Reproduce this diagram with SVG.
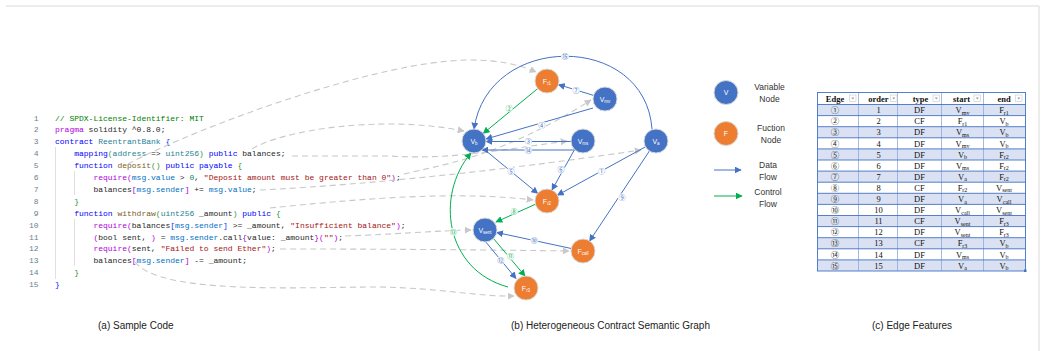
<svg xmlns="http://www.w3.org/2000/svg" width="1046" height="351" viewBox="0 0 1046 351">
<style>
.code{font-family:"Liberation Mono",monospace;font-size:8px;fill:#1f1f1f}
.ln{font-family:"Liberation Mono",monospace;font-size:8px;fill:#6a7f8f;text-anchor:end}
.cm{fill:#008000}.kw{fill:#0000ff}.mg{fill:#af00db}.ty{fill:#267f99}.fn{fill:#795e26}.st{fill:#a31515}.nu{fill:#098658}.ms{fill:#0070c1}
.b1{fill:#0431fa}.b2{fill:#319331}.b3{fill:#af00db}
.guide{stroke:#d8d8d8;stroke-width:0.8}
.dash{fill:none;stroke:#c8c8c8;stroke-width:1.1;stroke-dasharray:6 4;marker-end:url(#ag)}
.de{fill:none;stroke:#4472c4;stroke-width:1;marker-end:url(#ab)}
.ce{fill:none;stroke:#00b050;stroke-width:1;marker-end:url(#ac)}
.vn{fill:#4472c4;stroke:#d9d9d9;stroke-width:1}
.fnode{fill:#ed7d31;stroke:#d9d9d9;stroke-width:1}
.nl{font-family:"Liberation Sans",sans-serif;font-size:7px;fill:#fff;text-anchor:middle}
.sub{font-size:4.5px}
.elb{font-family:"Noto Sans CJK SC","DejaVu Sans",sans-serif;font-size:7px;text-anchor:middle}
.lg{font-family:"Liberation Sans",sans-serif;font-size:8.5px;fill:#333;text-anchor:middle}
.cap{font-family:"Liberation Sans",sans-serif;font-size:10px;fill:#222}
.tt{font-family:"Liberation Serif",serif;font-size:8.5px;fill:#111;text-anchor:middle}
.th{font-family:"Liberation Serif",serif;font-size:8.5px;font-weight:bold;fill:#111;text-anchor:middle}
.tc{font-family:"Noto Sans CJK SC","DejaVu Sans",sans-serif;font-size:8.5px;fill:#333;text-anchor:middle}
.ts{font-size:6px}
.rowa{fill:#d9e1f2}
.hl{stroke:#4472c4;stroke-width:0.9}
.vl{stroke:#8eaadb;stroke-width:0.8}
.fb{fill:#fff;stroke:#c8c8c8;stroke-width:0.6}
</style>
<defs>
<marker id="ab" viewBox="0 0 10 10" refX="9" refY="5" markerWidth="7" markerHeight="7" markerUnits="userSpaceOnUse" orient="auto"><path d="M0 0 L10 5 L0 10 z" fill="#4472c4"/></marker>
<marker id="ac" viewBox="0 0 10 10" refX="9" refY="5" markerWidth="7" markerHeight="7" markerUnits="userSpaceOnUse" orient="auto"><path d="M0 0 L10 5 L0 10 z" fill="#00b050"/></marker>
<marker id="ag" viewBox="0 0 10 10" refX="9" refY="5" markerWidth="7" markerHeight="7" markerUnits="userSpaceOnUse" orient="auto"><path d="M0 0 L10 5 L0 10 z" fill="#c8c8c8"/></marker>
</defs>
<rect width="1046" height="351" fill="#fff"/>
<path d="M6 6 H1039 V351" fill="none" stroke="#d9d9d9" stroke-width="1"/>

<g id="code">
<line class="guide" x1="55.5" y1="147" x2="55.5" y2="279"/>
<line class="guide" x1="74.5" y1="171" x2="74.5" y2="195"/>
<line class="guide" x1="74.5" y1="219" x2="74.5" y2="266"/>
<text class="ln" x="38.5" y="120.5">1</text>
<text class="ln" x="38.5" y="132.4">2</text>
<text class="ln" x="38.5" y="144.3">3</text>
<text class="ln" x="38.5" y="156.2">4</text>
<text class="ln" x="38.5" y="168.1">5</text>
<text class="ln" x="38.5" y="180">6</text>
<text class="ln" x="38.5" y="191.9">7</text>
<text class="ln" x="38.5" y="203.8">8</text>
<text class="ln" x="38.5" y="215.7">9</text>
<text class="ln" x="38.5" y="227.6">10</text>
<text class="ln" x="38.5" y="239.5">11</text>
<text class="ln" x="38.5" y="251.4">12</text>
<text class="ln" x="38.5" y="263.3">13</text>
<text class="ln" x="38.5" y="275.2">14</text>
<text class="ln" x="38.5" y="287.1">15</text>
<text class="code" xml:space="preserve" x="55" y="120.5"><tspan class="cm">// SPDX-License-Identifier: MIT</tspan></text>
<text class="code" xml:space="preserve" x="55" y="132.4"><tspan class="mg">pragma</tspan> solidity ^0.8.0;</text>
<text class="code" xml:space="preserve" x="55" y="144.3"><tspan class="kw">contract</tspan> <tspan class="ty">ReentrantBank</tspan> <tspan class="b1">{</tspan></text>
<text class="code" xml:space="preserve" x="74.2" y="156.2"><tspan class="kw">mapping</tspan><tspan class="b2">(</tspan><tspan class="ty">address</tspan> =&gt; <tspan class="ty">uint256</tspan><tspan class="b2">)</tspan> <tspan class="kw">public</tspan> balances;</text>
<text class="code" xml:space="preserve" x="74.2" y="168.1"><tspan class="kw">function</tspan> <tspan class="fn">deposit</tspan><tspan class="b2">()</tspan> <tspan class="kw">public</tspan> <tspan class="kw">payable</tspan> <tspan class="b2">{</tspan></text>
<text class="code" xml:space="preserve" x="93.4" y="180"><tspan class="mg">require</tspan><tspan class="b3">(</tspan><tspan class="ms">msg.value</tspan> &gt; <tspan class="nu">0</tspan>, <tspan class="st">"Deposit amount must be greater than 0"</tspan><tspan class="b3">)</tspan>;</text>
<text class="code" xml:space="preserve" x="93.4" y="191.9">balances<tspan class="b3">[</tspan><tspan class="ms">msg.sender</tspan><tspan class="b3">]</tspan> += <tspan class="ms">msg.value</tspan>;</text>
<text class="code" xml:space="preserve" x="74.2" y="203.8"><tspan class="b2">}</tspan></text>
<text class="code" xml:space="preserve" x="74.2" y="215.7"><tspan class="kw">function</tspan> <tspan class="fn">withdraw</tspan><tspan class="b2">(</tspan><tspan class="ty">uint256</tspan> _amount<tspan class="b2">)</tspan> <tspan class="kw">public</tspan> <tspan class="b2">{</tspan></text>
<text class="code" xml:space="preserve" x="93.4" y="227.6"><tspan class="mg">require</tspan><tspan class="b3">(</tspan>balances<tspan class="b1">[</tspan><tspan class="ms">msg.sender</tspan><tspan class="b1">]</tspan> &gt;= _amount, <tspan class="st">"Insufficient balance"</tspan><tspan class="b3">)</tspan>;</text>
<text class="code" xml:space="preserve" x="93.4" y="239.5"><tspan class="b3">(</tspan>bool sent, <tspan class="b3">)</tspan> = <tspan class="ms">msg.sender</tspan>.call<tspan class="b3">{</tspan>value: _amount<tspan class="b3">}</tspan><tspan class="b3">(</tspan><tspan class="st">""</tspan><tspan class="b3">)</tspan>;</text>
<text class="code" xml:space="preserve" x="93.4" y="251.4"><tspan class="mg">require</tspan><tspan class="b3">(</tspan>sent, <tspan class="st">"Failed to send Ether"</tspan><tspan class="b3">)</tspan>;</text>
<text class="code" xml:space="preserve" x="93.4" y="263.3">balances<tspan class="b3">[</tspan><tspan class="ms">msg.sender</tspan><tspan class="b3">]</tspan> -= _amount;</text>
<text class="code" xml:space="preserve" x="74.2" y="275.2"><tspan class="b2">}</tspan></text>
<text class="code" xml:space="preserve" x="55" y="287.1"><tspan class="b1">}</tspan></text>
</g>

<g id="mappings">
<path class="dash" d="M128 164 C200 126, 380 60, 470 60 C500 60, 520 65, 536 72"/>
<path class="dash" d="M252 149 C280 131, 380 114, 464 131"/>
<path class="dash" d="M292 156 L390 156 C450 160, 500 150, 567 141"/>
<path class="dash" d="M404 174 C440 165, 500 158, 591 100"/>
<path class="dash" d="M260 190 C380 184, 520 168, 641 150"/>
<path class="dash" d="M270 208 C350 200, 450 190, 533 200"/>
<path class="dash" d="M345 236 C400 234, 430 231, 471 230"/>
<path class="dash" d="M280 249 C400 249, 500 250, 569 251"/>
<path class="dash" d="M135 262 C160 295, 300 287, 380 287 C440 288, 480 297, 514 296"/>
</g>

<g id="connectors">
<path class="de" d="M652 129 C645 32, 488 32, 474 129"/>
<path class="ce" d="M537.7 88.6 L483.3 133.4"/>
<path class="de" d="M593.5 95.4 L558.5 84.6"/>
<path class="de" d="M593 108 L486 139"/>
<path class="de" d="M571 141.5 L486 141.5"/>
<path class="de" d="M575 150 L482 150"/>
<path class="de" d="M483.3 148.6 L537.7 193.4"/>
<path class="de" d="M574 150.5 L552 190"/>
<path class="de" d="M645.5 146.8 L557.5 195.2"/>
<path class="de" d="M649.4 151 L589.6 241"/>
<path class="ce" d="M536 204 L496 222"/>
<path class="de" d="M571.3 248.5 L496.7 232.5"/>
<path class="de" d="M485 241 L516 278.5"/>
<path class="ce" d="M493.5 238.5 L525 276"/>
<path class="ce" d="M508 287 C445 270, 435 195, 471 153"/>
<g>
<circle cx="565" cy="56" r="4" fill="#fff"/><text class="elb" x="565" y="58.5" fill="#4472c4">⑮</text>
<circle cx="509" cy="108" r="4" fill="#fff"/><text class="elb" x="509" y="110.5" fill="#00b050">②</text>
<circle cx="576" cy="90" r="4" fill="#fff"/><text class="elb" x="576" y="92.5" fill="#4472c4">⑦</text>
<circle cx="541.7" cy="125" r="4" fill="#fff"/><text class="elb" x="541.7" y="127.5" fill="#4472c4">④</text>
<circle cx="528.3" cy="141.5" r="3.8" fill="#fff"/><text class="elb" x="528.3" y="144" fill="#4472c4">③</text>
<circle cx="528.3" cy="150" r="3.8" fill="#fff"/><text class="elb" x="528.3" y="152.5" fill="#4472c4">⑭</text>
<circle cx="511" cy="171" r="4" fill="#fff"/><text class="elb" x="511" y="173.5" fill="#4472c4">⑤</text>
<circle cx="561" cy="169.5" r="4" fill="#fff"/><text class="elb" x="561" y="172" fill="#4472c4">⑥</text>
<circle cx="601.5" cy="171" r="4" fill="#fff"/><text class="elb" x="601.5" y="173.5" fill="#4472c4">①</text>
<circle cx="622" cy="197.5" r="4" fill="#fff"/><text class="elb" x="622" y="200" fill="#4472c4">⑨</text>
<circle cx="514" cy="211" r="4" fill="#fff"/><text class="elb" x="514" y="213.5" fill="#00b050">⑧</text>
<circle cx="534.3" cy="240.7" r="4" fill="#fff"/><text class="elb" x="534.3" y="243.2" fill="#4472c4">⑩</text>
<circle cx="500.7" cy="260.5" r="4" fill="#fff"/><text class="elb" x="500.7" y="263" fill="#4472c4">⑫</text>
<circle cx="510.5" cy="256" r="4" fill="#fff"/><text class="elb" x="510.5" y="258.5" fill="#00b050">⑪</text>
<circle cx="453.3" cy="232" r="4" fill="#fff"/><text class="elb" x="453.3" y="234.5" fill="#00b050">⑬</text>
</g>
</g>

<g id="node-Fr1"><circle class="fnode" cx="547" cy="81" r="12"/><text class="nl" x="547" y="83.5">F<tspan class="sub" dy="1.5">r1</tspan></text></g>
<g id="node-Vmv"><circle class="vn" cx="605" cy="99" r="12"/><text class="nl" x="605" y="101.5">V<tspan class="sub" dy="1.5">mv</tspan></text></g>
<g id="node-Vb"><circle class="vn" cx="474" cy="141" r="12"/><text class="nl" x="474" y="143.5">V<tspan class="sub" dy="1.5">b</tspan></text></g>
<g id="node-Vms"><circle class="vn" cx="583" cy="141" r="12"/><text class="nl" x="583" y="143.5">V<tspan class="sub" dy="1.5">ms</tspan></text></g>
<g id="node-Va"><circle class="vn" cx="656" cy="141" r="12"/><text class="nl" x="656" y="143.5">V<tspan class="sub" dy="1.5">a</tspan></text></g>
<g id="node-Fr2"><circle class="fnode" cx="547" cy="201" r="12"/><text class="nl" x="547" y="203.5">F<tspan class="sub" dy="1.5">r2</tspan></text></g>
<g id="node-Vsent"><circle class="vn" cx="485" cy="230" r="12"/><text class="nl" x="485" y="232.5">V<tspan class="sub" dy="1.5">sent</tspan></text></g>
<g id="node-Fcall"><circle class="fnode" cx="583" cy="251" r="12"/><text class="nl" x="583" y="253.5">F<tspan class="sub" dy="1.5">call</tspan></text></g>
<g id="node-Fr3"><circle class="fnode" cx="526" cy="288" r="12"/><text class="nl" x="526" y="290.5">F<tspan class="sub" dy="1.5">r3</tspan></text></g>

<g id="legend">
<circle class="vn" cx="726" cy="92.5" r="12"/><text class="nl" x="726" y="95">V</text>
<text class="lg" x="769.5" y="89.5">Variable</text><text class="lg" x="769.5" y="101.5">Node</text>
<circle class="fnode" cx="726" cy="133.5" r="12"/><text class="nl" x="726" y="136">F</text>
<text class="lg" x="771" y="131">Fuction</text><text class="lg" x="771" y="143">Node</text>
<path class="de" d="M714 170 L741 170"/>
<text class="lg" x="768" y="168">Data</text><text class="lg" x="768" y="180">Flow</text>
<path class="ce" d="M714 196 L742 196"/>
<text class="lg" x="768" y="194.5">Control</text><text class="lg" x="768" y="207">Flow</text>
</g>

<g id="table">
<rect class="rowa" x="817.5" y="104.5" width="208" height="11.1"/>
<rect class="rowa" x="817.5" y="126.7" width="208" height="11.1"/>
<rect class="rowa" x="817.5" y="148.9" width="208" height="11.1"/>
<rect class="rowa" x="817.5" y="171.1" width="208" height="11.1"/>
<rect class="rowa" x="817.5" y="193.3" width="208" height="11.1"/>
<rect class="rowa" x="817.5" y="215.5" width="208" height="11.1"/>
<rect class="rowa" x="817.5" y="237.7" width="208" height="11.1"/>
<rect class="rowa" x="817.5" y="259.9" width="208" height="11.1"/>
<g class="vl">
<line x1="858.5" y1="92.5" x2="858.5" y2="271"/>
<line x1="897.5" y1="92.5" x2="897.5" y2="271"/>
<line x1="941.5" y1="92.5" x2="941.5" y2="271"/>
<line x1="983.5" y1="92.5" x2="983.5" y2="271"/>
</g>
<g class="hl">
<line x1="817.5" y1="104.5" x2="1025.5" y2="104.5"/>
<line x1="817.5" y1="115.6" x2="1025.5" y2="115.6"/>
<line x1="817.5" y1="126.7" x2="1025.5" y2="126.7"/>
<line x1="817.5" y1="137.8" x2="1025.5" y2="137.8"/>
<line x1="817.5" y1="148.9" x2="1025.5" y2="148.9"/>
<line x1="817.5" y1="160" x2="1025.5" y2="160"/>
<line x1="817.5" y1="171.1" x2="1025.5" y2="171.1"/>
<line x1="817.5" y1="182.2" x2="1025.5" y2="182.2"/>
<line x1="817.5" y1="193.3" x2="1025.5" y2="193.3"/>
<line x1="817.5" y1="204.4" x2="1025.5" y2="204.4"/>
<line x1="817.5" y1="215.5" x2="1025.5" y2="215.5"/>
<line x1="817.5" y1="226.6" x2="1025.5" y2="226.6"/>
<line x1="817.5" y1="237.7" x2="1025.5" y2="237.7"/>
<line x1="817.5" y1="248.8" x2="1025.5" y2="248.8"/>
<line x1="817.5" y1="259.9" x2="1025.5" y2="259.9"/>
</g>
<rect x="817.5" y="92.5" width="208" height="178.5" fill="none" stroke="#4472c4" stroke-width="0.9"/>
<rect x="1024" y="269.5" width="2.5" height="2.5" fill="#4472c4"/>
<text class="th" x="835" y="101.5">Edge</text>
<text class="th" x="878.5" y="101.5">order</text>
<text class="th" x="920.5" y="101.5">type</text>
<text class="th" x="961.5" y="101.5">start</text>
<text class="th" x="1004" y="101.5">end</text>
<g class="fb">
<rect x="849.5" y="95" width="6.5" height="6.5"/>
<rect x="890.5" y="95" width="6.5" height="6.5"/>
<rect x="933" y="95" width="6.5" height="6.5"/>
<rect x="974" y="95" width="6.5" height="6.5"/>
<rect x="1015.5" y="95" width="6.5" height="6.5"/>
</g>
<g fill="#9a9a9a">
<path d="M851.3 97.6 h3 l-1.5 1.8 z"/>
<path d="M892.3 97.6 h3 l-1.5 1.8 z"/>
<path d="M934.8 97.6 h3 l-1.5 1.8 z"/>
<path d="M975.8 97.6 h3 l-1.5 1.8 z"/>
<path d="M1017.3 97.6 h3 l-1.5 1.8 z"/>
</g>
<g>
<text class="tc" x="835" y="113.2">①</text><text class="tt" x="878.5" y="113.2">1</text><text class="tt" x="919.5" y="113.2">DF</text><text class="tt" x="962.5" y="113.2">V<tspan class="ts" dy="1.5">mv</tspan></text><text class="tt" x="1004" y="113.2">F<tspan class="ts" dy="1.5">r1</tspan></text>
<text class="tc" x="835" y="124.3">②</text><text class="tt" x="878.5" y="124.3">2</text><text class="tt" x="919.5" y="124.3">CF</text><text class="tt" x="962.5" y="124.3">F<tspan class="ts" dy="1.5">r1</tspan></text><text class="tt" x="1004" y="124.3">V<tspan class="ts" dy="1.5">b</tspan></text>
<text class="tc" x="835" y="135.4">③</text><text class="tt" x="878.5" y="135.4">3</text><text class="tt" x="919.5" y="135.4">DF</text><text class="tt" x="962.5" y="135.4">V<tspan class="ts" dy="1.5">ms</tspan></text><text class="tt" x="1004" y="135.4">V<tspan class="ts" dy="1.5">b</tspan></text>
<text class="tc" x="835" y="146.5">④</text><text class="tt" x="878.5" y="146.5">4</text><text class="tt" x="919.5" y="146.5">DF</text><text class="tt" x="962.5" y="146.5">V<tspan class="ts" dy="1.5">mv</tspan></text><text class="tt" x="1004" y="146.5">V<tspan class="ts" dy="1.5">b</tspan></text>
<text class="tc" x="835" y="157.6">⑤</text><text class="tt" x="878.5" y="157.6">5</text><text class="tt" x="919.5" y="157.6">DF</text><text class="tt" x="962.5" y="157.6">V<tspan class="ts" dy="1.5">b</tspan></text><text class="tt" x="1004" y="157.6">F<tspan class="ts" dy="1.5">r2</tspan></text>
<text class="tc" x="835" y="168.7">⑥</text><text class="tt" x="878.5" y="168.7">6</text><text class="tt" x="919.5" y="168.7">DF</text><text class="tt" x="962.5" y="168.7">V<tspan class="ts" dy="1.5">ms</tspan></text><text class="tt" x="1004" y="168.7">F<tspan class="ts" dy="1.5">r2</tspan></text>
<text class="tc" x="835" y="179.8">⑦</text><text class="tt" x="878.5" y="179.8">7</text><text class="tt" x="919.5" y="179.8">DF</text><text class="tt" x="962.5" y="179.8">V<tspan class="ts" dy="1.5">a</tspan></text><text class="tt" x="1004" y="179.8">F<tspan class="ts" dy="1.5">r2</tspan></text>
<text class="tc" x="835" y="190.9">⑧</text><text class="tt" x="878.5" y="190.9">8</text><text class="tt" x="919.5" y="190.9">CF</text><text class="tt" x="962.5" y="190.9">F<tspan class="ts" dy="1.5">r2</tspan></text><text class="tt" x="1004" y="190.9">V<tspan class="ts" dy="1.5">sent</tspan></text>
<text class="tc" x="835" y="202">⑨</text><text class="tt" x="878.5" y="202">9</text><text class="tt" x="919.5" y="202">DF</text><text class="tt" x="962.5" y="202">V<tspan class="ts" dy="1.5">a</tspan></text><text class="tt" x="1004" y="202">V<tspan class="ts" dy="1.5">call</tspan></text>
<text class="tc" x="835" y="213.1">⑩</text><text class="tt" x="878.5" y="213.1">10</text><text class="tt" x="919.5" y="213.1">DF</text><text class="tt" x="962.5" y="213.1">V<tspan class="ts" dy="1.5">call</tspan></text><text class="tt" x="1004" y="213.1">V<tspan class="ts" dy="1.5">sent</tspan></text>
<text class="tc" x="835" y="224.2">⑪</text><text class="tt" x="878.5" y="224.2">11</text><text class="tt" x="919.5" y="224.2">CF</text><text class="tt" x="962.5" y="224.2">V<tspan class="ts" dy="1.5">sent</tspan></text><text class="tt" x="1004" y="224.2">F<tspan class="ts" dy="1.5">r3</tspan></text>
<text class="tc" x="835" y="235.3">⑫</text><text class="tt" x="878.5" y="235.3">12</text><text class="tt" x="919.5" y="235.3">DF</text><text class="tt" x="962.5" y="235.3">V<tspan class="ts" dy="1.5">sent</tspan></text><text class="tt" x="1004" y="235.3">F<tspan class="ts" dy="1.5">r3</tspan></text>
<text class="tc" x="835" y="246.4">⑬</text><text class="tt" x="878.5" y="246.4">13</text><text class="tt" x="919.5" y="246.4">CF</text><text class="tt" x="962.5" y="246.4">F<tspan class="ts" dy="1.5">r3</tspan></text><text class="tt" x="1004" y="246.4">V<tspan class="ts" dy="1.5">b</tspan></text>
<text class="tc" x="835" y="257.5">⑭</text><text class="tt" x="878.5" y="257.5">14</text><text class="tt" x="919.5" y="257.5">DF</text><text class="tt" x="962.5" y="257.5">V<tspan class="ts" dy="1.5">ms</tspan></text><text class="tt" x="1004" y="257.5">V<tspan class="ts" dy="1.5">b</tspan></text>
<text class="tc" x="835" y="268.6">⑮</text><text class="tt" x="878.5" y="268.6">15</text><text class="tt" x="919.5" y="268.6">DF</text><text class="tt" x="962.5" y="268.6">V<tspan class="ts" dy="1.5">a</tspan></text><text class="tt" x="1004" y="268.6">V<tspan class="ts" dy="1.5">b</tspan></text>
</g>
</g>

<g id="captions">
<text class="cap" x="98" y="328.5">(a)  Sample Code</text>
<text class="cap" x="511" y="328.5">(b)  Heterogeneous Contract Semantic Graph</text>
<text class="cap" x="872" y="328.5">(c)  Edge Features</text>
</g>
</svg>
